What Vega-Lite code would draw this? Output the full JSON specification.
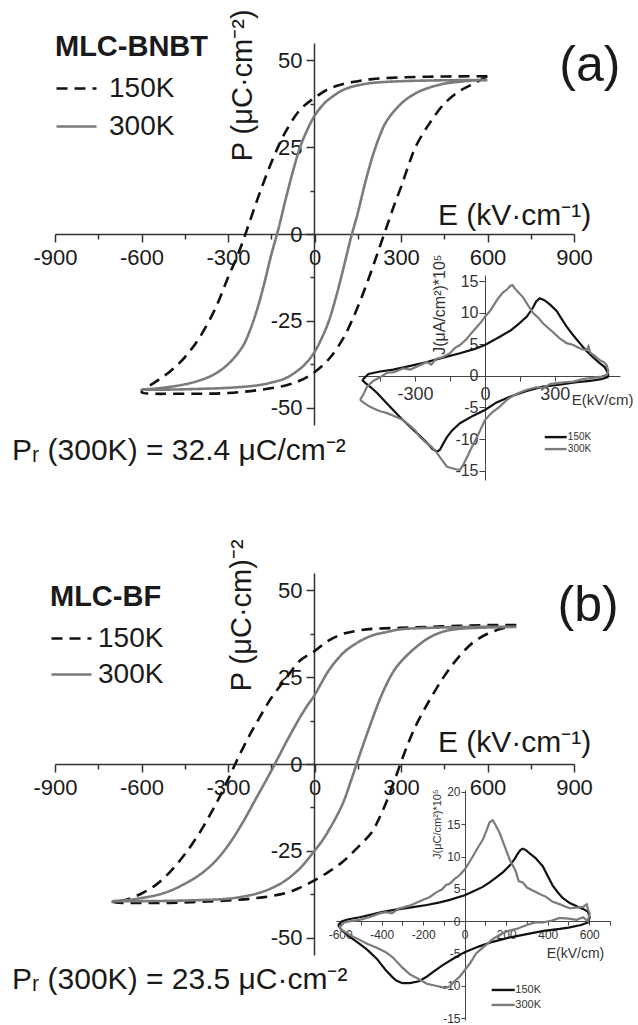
{
"$schema": "https://vega.github.io/schema/vega-lite/v6.json",
"width": 638, "height": 1025, "autosize": {"type": "none"}, "padding": 0, "background": "white",
"config": {"view": {"stroke": null}, "font": "Liberation Sans",
  "axis": {"grid": false, "domainColor": "#333333", "tickColor": "#333333", "labelColor": "#1a1a1a", "labelFont": "Liberation Sans", "labelOverlap": false, "labelFlush": false},
  "legend": {"labelFont": "Liberation Sans", "titleFont": "Liberation Sans", "labelColor": "#1a1a1a", "titleColor": "#1a1a1a"}},
"datasets": {
"mainA": [
{"T":"150K","i":0,"E":600,"P":45.4},{"T":"150K","i":1,"E":500,"P":45.4},{"T":"150K","i":2,"E":400,"P":45.3},{"T":"150K","i":3,"E":300,"P":45.1},{"T":"150K","i":4,"E":200,"P":44.6},{"T":"150K","i":5,"E":150,"P":44},{"T":"150K","i":6,"E":100,"P":43.2},{"T":"150K","i":7,"E":50,"P":41.8},{"T":"150K","i":8,"E":0,"P":39.2},{"T":"150K","i":9,"E":-50,"P":35.8},{"T":"150K","i":10,"E":-100,"P":29.5},{"T":"150K","i":11,"E":-125,"P":25.3},{"T":"150K","i":12,"E":-150,"P":20.5},{"T":"150K","i":13,"E":-175,"P":15.2},{"T":"150K","i":14,"E":-200,"P":9.5},{"T":"150K","i":15,"E":-225,"P":3.5},{"T":"150K","i":16,"E":-250,"P":-2.5},{"T":"150K","i":17,"E":-275,"P":-7.8},{"T":"150K","i":18,"E":-300,"P":-12.5},{"T":"150K","i":19,"E":-325,"P":-17.8},{"T":"150K","i":20,"E":-350,"P":-22.5},{"T":"150K","i":21,"E":-400,"P":-30},{"T":"150K","i":22,"E":-450,"P":-35.5},{"T":"150K","i":23,"E":-500,"P":-39.5},{"T":"150K","i":24,"E":-550,"P":-42.5},{"T":"150K","i":25,"E":-600,"P":-45.5},{"T":"150K","i":26,"E":-550,"P":-46},{"T":"150K","i":27,"E":-500,"P":-46},{"T":"150K","i":28,"E":-400,"P":-46},{"T":"150K","i":29,"E":-300,"P":-45.8},{"T":"150K","i":30,"E":-200,"P":-45},{"T":"150K","i":31,"E":-100,"P":-43.6},{"T":"150K","i":32,"E":-50,"P":-42.2},{"T":"150K","i":33,"E":0,"P":-39.8},{"T":"150K","i":34,"E":50,"P":-36},{"T":"150K","i":35,"E":100,"P":-30},{"T":"150K","i":36,"E":125,"P":-25.8},{"T":"150K","i":37,"E":150,"P":-21},{"T":"150K","i":38,"E":175,"P":-15.7},{"T":"150K","i":39,"E":200,"P":-10},{"T":"150K","i":40,"E":225,"P":-4},{"T":"150K","i":41,"E":250,"P":2},{"T":"150K","i":42,"E":275,"P":8},{"T":"150K","i":43,"E":300,"P":13.5},{"T":"150K","i":44,"E":325,"P":19.5},{"T":"150K","i":45,"E":350,"P":25},{"T":"150K","i":46,"E":400,"P":32},{"T":"150K","i":47,"E":450,"P":37.5},{"T":"150K","i":48,"E":500,"P":41},{"T":"150K","i":49,"E":550,"P":43.2},{"T":"150K","i":50,"E":600,"P":45.4},
{"T":"300K","i":0,"E":600,"P":44.3},{"T":"300K","i":1,"E":500,"P":44.3},{"T":"300K","i":2,"E":400,"P":44.2},{"T":"300K","i":3,"E":300,"P":44},{"T":"300K","i":4,"E":200,"P":43.5},{"T":"300K","i":5,"E":150,"P":42.8},{"T":"300K","i":6,"E":100,"P":41.5},{"T":"300K","i":7,"E":50,"P":38.8},{"T":"300K","i":8,"E":25,"P":36.8},{"T":"300K","i":9,"E":0,"P":34},{"T":"300K","i":10,"E":-25,"P":30},{"T":"300K","i":11,"E":-50,"P":25},{"T":"300K","i":12,"E":-75,"P":18},{"T":"300K","i":13,"E":-100,"P":10},{"T":"300K","i":14,"E":-125,"P":1.5},{"T":"300K","i":15,"E":-150,"P":-6},{"T":"300K","i":16,"E":-175,"P":-14.5},{"T":"300K","i":17,"E":-200,"P":-22},{"T":"300K","i":18,"E":-225,"P":-28},{"T":"300K","i":19,"E":-250,"P":-32.5},{"T":"300K","i":20,"E":-300,"P":-37.5},{"T":"300K","i":21,"E":-350,"P":-40.5},{"T":"300K","i":22,"E":-400,"P":-42.2},{"T":"300K","i":23,"E":-450,"P":-43.3},{"T":"300K","i":24,"E":-500,"P":-44},{"T":"300K","i":25,"E":-550,"P":-44.5},{"T":"300K","i":26,"E":-600,"P":-44.8},{"T":"300K","i":27,"E":-500,"P":-44.8},{"T":"300K","i":28,"E":-400,"P":-44.6},{"T":"300K","i":29,"E":-300,"P":-44.3},{"T":"300K","i":30,"E":-200,"P":-43.6},{"T":"300K","i":31,"E":-150,"P":-42.8},{"T":"300K","i":32,"E":-100,"P":-41.5},{"T":"300K","i":33,"E":-50,"P":-38.8},{"T":"300K","i":34,"E":-25,"P":-36.8},{"T":"300K","i":35,"E":0,"P":-34},{"T":"300K","i":36,"E":25,"P":-30},{"T":"300K","i":37,"E":50,"P":-25},{"T":"300K","i":38,"E":75,"P":-18},{"T":"300K","i":39,"E":100,"P":-10},{"T":"300K","i":40,"E":125,"P":-1.5},{"T":"300K","i":41,"E":150,"P":6},{"T":"300K","i":42,"E":175,"P":14.5},{"T":"300K","i":43,"E":200,"P":22},{"T":"300K","i":44,"E":225,"P":28},{"T":"300K","i":45,"E":250,"P":32.5},{"T":"300K","i":46,"E":300,"P":37.5},{"T":"300K","i":47,"E":350,"P":40.5},{"T":"300K","i":48,"E":400,"P":42.2},{"T":"300K","i":49,"E":450,"P":43.3},{"T":"300K","i":50,"E":500,"P":43.8},{"T":"300K","i":51,"E":550,"P":44.2},{"T":"300K","i":52,"E":600,"P":44.3}
],
"mainB": [
{"T":"150K","i":0,"E":700,"P":40},{"T":"150K","i":1,"E":600,"P":40},{"T":"150K","i":2,"E":500,"P":39.8},{"T":"150K","i":3,"E":400,"P":39.5},{"T":"150K","i":4,"E":300,"P":39.2},{"T":"150K","i":5,"E":200,"P":38.9},{"T":"150K","i":6,"E":150,"P":38.4},{"T":"150K","i":7,"E":100,"P":37.5},{"T":"150K","i":8,"E":50,"P":35.6},{"T":"150K","i":9,"E":0,"P":32.5},{"T":"150K","i":10,"E":-50,"P":29.8},{"T":"150K","i":11,"E":-100,"P":24.5},{"T":"150K","i":12,"E":-150,"P":19},{"T":"150K","i":13,"E":-200,"P":12},{"T":"150K","i":14,"E":-225,"P":8.3},{"T":"150K","i":15,"E":-250,"P":4.3},{"T":"150K","i":16,"E":-275,"P":0},{"T":"150K","i":17,"E":-300,"P":-4.5},{"T":"150K","i":18,"E":-325,"P":-8.8},{"T":"150K","i":19,"E":-350,"P":-12.8},{"T":"150K","i":20,"E":-400,"P":-20},{"T":"150K","i":21,"E":-450,"P":-26},{"T":"150K","i":22,"E":-500,"P":-31},{"T":"150K","i":23,"E":-550,"P":-34.8},{"T":"150K","i":24,"E":-600,"P":-37.3},{"T":"150K","i":25,"E":-650,"P":-39},{"T":"150K","i":26,"E":-700,"P":-39.8},{"T":"150K","i":27,"E":-650,"P":-40},{"T":"150K","i":28,"E":-600,"P":-40},{"T":"150K","i":29,"E":-500,"P":-40},{"T":"150K","i":30,"E":-400,"P":-39.7},{"T":"150K","i":31,"E":-300,"P":-39.3},{"T":"150K","i":32,"E":-200,"P":-38.6},{"T":"150K","i":33,"E":-100,"P":-37.2},{"T":"150K","i":34,"E":-50,"P":-35.6},{"T":"150K","i":35,"E":0,"P":-33.5},{"T":"150K","i":36,"E":50,"P":-31},{"T":"150K","i":37,"E":100,"P":-28},{"T":"150K","i":38,"E":150,"P":-24},{"T":"150K","i":39,"E":200,"P":-19.5},{"T":"150K","i":40,"E":225,"P":-15.5},{"T":"150K","i":41,"E":250,"P":-10.8},{"T":"150K","i":42,"E":275,"P":-5.3},{"T":"150K","i":43,"E":300,"P":0.5},{"T":"150K","i":44,"E":325,"P":6},{"T":"150K","i":45,"E":350,"P":10.8},{"T":"150K","i":46,"E":375,"P":14.8},{"T":"150K","i":47,"E":400,"P":18.5},{"T":"150K","i":48,"E":450,"P":25.3},{"T":"150K","i":49,"E":500,"P":30.8},{"T":"150K","i":50,"E":550,"P":35},{"T":"150K","i":51,"E":600,"P":37.5},{"T":"150K","i":52,"E":650,"P":39},{"T":"150K","i":53,"E":700,"P":40},
{"T":"300K","i":0,"E":700,"P":39.5},{"T":"300K","i":1,"E":600,"P":39.5},{"T":"300K","i":2,"E":500,"P":39.4},{"T":"300K","i":3,"E":400,"P":39.2},{"T":"300K","i":4,"E":300,"P":38.8},{"T":"300K","i":5,"E":250,"P":38},{"T":"300K","i":6,"E":200,"P":37},{"T":"300K","i":7,"E":150,"P":35},{"T":"300K","i":8,"E":100,"P":32},{"T":"300K","i":9,"E":50,"P":27},{"T":"300K","i":10,"E":25,"P":23.5},{"T":"300K","i":11,"E":0,"P":19.8},{"T":"300K","i":12,"E":-25,"P":16.8},{"T":"300K","i":13,"E":-50,"P":13.5},{"T":"300K","i":14,"E":-75,"P":9.8},{"T":"300K","i":15,"E":-100,"P":6},{"T":"300K","i":16,"E":-125,"P":2},{"T":"300K","i":17,"E":-150,"P":-2},{"T":"300K","i":18,"E":-175,"P":-5.8},{"T":"300K","i":19,"E":-200,"P":-9.5},{"T":"300K","i":20,"E":-250,"P":-17},{"T":"300K","i":21,"E":-300,"P":-23.5},{"T":"300K","i":22,"E":-350,"P":-28.5},{"T":"300K","i":23,"E":-400,"P":-32},{"T":"300K","i":24,"E":-450,"P":-34.5},{"T":"300K","i":25,"E":-500,"P":-36.5},{"T":"300K","i":26,"E":-550,"P":-37.8},{"T":"300K","i":27,"E":-600,"P":-38.6},{"T":"300K","i":28,"E":-650,"P":-39.2},{"T":"300K","i":29,"E":-700,"P":-39.5},{"T":"300K","i":30,"E":-650,"P":-39.5},{"T":"300K","i":31,"E":-600,"P":-39.5},{"T":"300K","i":32,"E":-500,"P":-39.4},{"T":"300K","i":33,"E":-400,"P":-39.2},{"T":"300K","i":34,"E":-300,"P":-38.8},{"T":"300K","i":35,"E":-250,"P":-38.2},{"T":"300K","i":36,"E":-200,"P":-37.3},{"T":"300K","i":37,"E":-150,"P":-35.8},{"T":"300K","i":38,"E":-100,"P":-33.5},{"T":"300K","i":39,"E":-50,"P":-30},{"T":"300K","i":40,"E":0,"P":-25},{"T":"300K","i":41,"E":25,"P":-22.3},{"T":"300K","i":42,"E":50,"P":-19},{"T":"300K","i":43,"E":75,"P":-15.3},{"T":"300K","i":44,"E":100,"P":-11},{"T":"300K","i":45,"E":125,"P":-5.2},{"T":"300K","i":46,"E":150,"P":1},{"T":"300K","i":47,"E":175,"P":7},{"T":"300K","i":48,"E":200,"P":12.8},{"T":"300K","i":49,"E":225,"P":18.3},{"T":"300K","i":50,"E":250,"P":23},{"T":"300K","i":51,"E":275,"P":26.8},{"T":"300K","i":52,"E":300,"P":29.5},{"T":"300K","i":53,"E":350,"P":33.5},{"T":"300K","i":54,"E":400,"P":36.5},{"T":"300K","i":55,"E":450,"P":38.2},{"T":"300K","i":56,"E":500,"P":38.9},{"T":"300K","i":57,"E":600,"P":39.3},{"T":"300K","i":58,"E":700,"P":39.5}
],
"insetA": [
{"T":"150K","i":0,"E":-525,"J":-0.6},{"T":"150K","i":1,"E":-500,"J":0.3},{"T":"150K","i":2,"E":-450,"J":0.7},{"T":"150K","i":3,"E":-394,"J":1},{"T":"150K","i":4,"E":-320,"J":1.6},{"T":"150K","i":5,"E":-249,"J":2.2},{"T":"150K","i":6,"E":-180,"J":2.9},{"T":"150K","i":7,"E":-107,"J":3.6},{"T":"150K","i":8,"E":-50,"J":4.2},{"T":"150K","i":9,"E":0,"J":4.9},{"T":"150K","i":10,"E":64,"J":6.2},{"T":"150K","i":11,"E":110,"J":7.2},{"T":"150K","i":12,"E":150,"J":8.4},{"T":"150K","i":13,"E":180,"J":9.4},{"T":"150K","i":14,"E":206,"J":10.8},{"T":"150K","i":15,"E":220,"J":11.8},{"T":"150K","i":16,"E":235,"J":12.3},{"T":"150K","i":17,"E":255,"J":12},{"T":"150K","i":18,"E":280,"J":11.3},{"T":"150K","i":19,"E":308,"J":10.3},{"T":"150K","i":20,"E":330,"J":9},{"T":"150K","i":21,"E":351,"J":7.8},{"T":"150K","i":22,"E":380,"J":6.4},{"T":"150K","i":23,"E":407,"J":5.2},{"T":"150K","i":24,"E":435,"J":4},{"T":"150K","i":25,"E":463,"J":3},{"T":"150K","i":26,"E":490,"J":2.1},{"T":"150K","i":27,"E":514,"J":1.4},{"T":"150K","i":28,"E":525,"J":0.7},{"T":"150K","i":29,"E":530,"J":0.2},{"T":"150K","i":30,"E":527,"J":-0.2},{"T":"150K","i":31,"E":500,"J":-0.5},{"T":"150K","i":32,"E":450,"J":-0.8},{"T":"150K","i":33,"E":394,"J":-1},{"T":"150K","i":34,"E":320,"J":-1.4},{"T":"150K","i":35,"E":249,"J":-1.7},{"T":"150K","i":36,"E":180,"J":-2.4},{"T":"150K","i":37,"E":107,"J":-3.3},{"T":"150K","i":38,"E":50,"J":-4.2},{"T":"150K","i":39,"E":0,"J":-5.4},{"T":"150K","i":40,"E":-50,"J":-6.3},{"T":"150K","i":41,"E":-107,"J":-7.5},{"T":"150K","i":42,"E":-140,"J":-8.6},{"T":"150K","i":43,"E":-163,"J":-9.7},{"T":"150K","i":44,"E":-180,"J":-10.8},{"T":"150K","i":45,"E":-193,"J":-11.7},{"T":"150K","i":46,"E":-205,"J":-12},{"T":"150K","i":47,"E":-225,"J":-11.6},{"T":"150K","i":48,"E":-249,"J":-10.6},{"T":"150K","i":49,"E":-285,"J":-9.3},{"T":"150K","i":50,"E":-321,"J":-8.1},{"T":"150K","i":51,"E":-360,"J":-6.7},{"T":"150K","i":52,"E":-394,"J":-5.4},{"T":"150K","i":53,"E":-430,"J":-4},{"T":"150K","i":54,"E":-463,"J":-2.7},{"T":"150K","i":55,"E":-490,"J":-1.8},{"T":"150K","i":56,"E":-514,"J":-1.1},{"T":"150K","i":57,"E":-528,"J":-0.6},
{"T":"300K","i":0,"E":-536,"J":-3.8},{"T":"300K","i":1,"E":-520,"J":-2.8},{"T":"300K","i":2,"E":-506,"J":-1.7},{"T":"300K","i":3,"E":-480,"J":-0.8},{"T":"300K","i":4,"E":-450,"J":-0.2},{"T":"300K","i":5,"E":-420,"J":0.5},{"T":"300K","i":6,"E":-390,"J":0.6},{"T":"300K","i":7,"E":-350,"J":1.2},{"T":"300K","i":8,"E":-320,"J":1},{"T":"300K","i":9,"E":-279,"J":1.7},{"T":"300K","i":10,"E":-250,"J":2.2},{"T":"300K","i":11,"E":-230,"J":1.8},{"T":"300K","i":12,"E":-210,"J":2.7},{"T":"300K","i":13,"E":-180,"J":3},{"T":"300K","i":14,"E":-150,"J":3.6},{"T":"300K","i":15,"E":-130,"J":4.4},{"T":"300K","i":16,"E":-107,"J":4.9},{"T":"300K","i":17,"E":-80,"J":5.8},{"T":"300K","i":18,"E":-60,"J":6.7},{"T":"300K","i":19,"E":-34,"J":7.8},{"T":"300K","i":20,"E":-15,"J":8.6},{"T":"300K","i":21,"E":0,"J":9.4},{"T":"300K","i":22,"E":20,"J":10.2},{"T":"300K","i":23,"E":34,"J":11},{"T":"300K","i":24,"E":55,"J":12.2},{"T":"300K","i":25,"E":77,"J":13.2},{"T":"300K","i":26,"E":95,"J":13.7},{"T":"300K","i":27,"E":110,"J":14.3},{"T":"300K","i":28,"E":118,"J":14.4},{"T":"300K","i":29,"E":130,"J":13.8},{"T":"300K","i":30,"E":145,"J":13.2},{"T":"300K","i":31,"E":163,"J":12.5},{"T":"300K","i":32,"E":185,"J":11.2},{"T":"300K","i":33,"E":206,"J":10},{"T":"300K","i":34,"E":230,"J":9.2},{"T":"300K","i":35,"E":250,"J":8.3},{"T":"300K","i":36,"E":266,"J":7.8},{"T":"300K","i":37,"E":290,"J":7},{"T":"300K","i":38,"E":320,"J":6},{"T":"300K","i":39,"E":351,"J":5.2},{"T":"300K","i":40,"E":380,"J":4.9},{"T":"300K","i":41,"E":400,"J":4.5},{"T":"300K","i":42,"E":420,"J":4.2},{"T":"300K","i":43,"E":437,"J":4.1},{"T":"300K","i":44,"E":445,"J":4.7},{"T":"300K","i":45,"E":452,"J":3.7},{"T":"300K","i":46,"E":470,"J":3.2},{"T":"300K","i":47,"E":493,"J":2.5},{"T":"300K","i":48,"E":510,"J":2.2},{"T":"300K","i":49,"E":523,"J":1.7},{"T":"300K","i":50,"E":530,"J":0.8},{"T":"300K","i":51,"E":525,"J":0.2},{"T":"300K","i":52,"E":500,"J":-0.1},{"T":"300K","i":53,"E":463,"J":-0.3},{"T":"300K","i":54,"E":420,"J":-0.5},{"T":"300K","i":55,"E":380,"J":-0.9},{"T":"300K","i":56,"E":340,"J":-1},{"T":"300K","i":57,"E":321,"J":-1.1},{"T":"300K","i":58,"E":280,"J":-1.3},{"T":"300K","i":59,"E":250,"J":-1.9},{"T":"300K","i":60,"E":220,"J":-1.8},{"T":"300K","i":61,"E":180,"J":-2.2},{"T":"300K","i":62,"E":140,"J":-2.8},{"T":"300K","i":63,"E":110,"J":-3.4},{"T":"300K","i":64,"E":94,"J":-3.8},{"T":"300K","i":65,"E":60,"J":-5},{"T":"300K","i":66,"E":30,"J":-5.8},{"T":"300K","i":67,"E":0,"J":-7},{"T":"300K","i":68,"E":-15,"J":-8.2},{"T":"300K","i":69,"E":-34,"J":-9.7},{"T":"300K","i":70,"E":-55,"J":-11.2},{"T":"300K","i":71,"E":-77,"J":-12.9},{"T":"300K","i":72,"E":-92,"J":-14},{"T":"300K","i":73,"E":-107,"J":-14.9},{"T":"300K","i":74,"E":-125,"J":-14.8},{"T":"300K","i":75,"E":-145,"J":-14.6},{"T":"300K","i":76,"E":-163,"J":-14.4},{"T":"300K","i":77,"E":-185,"J":-13.3},{"T":"300K","i":78,"E":-206,"J":-12.2},{"T":"300K","i":79,"E":-230,"J":-11.2},{"T":"300K","i":80,"E":-255,"J":-10.5},{"T":"300K","i":81,"E":-279,"J":-9.7},{"T":"300K","i":82,"E":-300,"J":-8.6},{"T":"300K","i":83,"E":-325,"J":-7.8},{"T":"300K","i":84,"E":-351,"J":-7},{"T":"300K","i":85,"E":-380,"J":-6.5},{"T":"300K","i":86,"E":-420,"J":-5.9},{"T":"300K","i":87,"E":-450,"J":-5.6},{"T":"300K","i":88,"E":-475,"J":-5.2},{"T":"300K","i":89,"E":-493,"J":-4.9},{"T":"300K","i":90,"E":-515,"J":-4.4},{"T":"300K","i":91,"E":-536,"J":-3.8}
],
"insetB": [
{"T":"150K","i":0,"E":-610,"J":-0.6},{"T":"150K","i":1,"E":-590,"J":0},{"T":"150K","i":2,"E":-560,"J":0.3},{"T":"150K","i":3,"E":-506,"J":0.6},{"T":"150K","i":4,"E":-450,"J":1},{"T":"150K","i":5,"E":-400,"J":1.4},{"T":"150K","i":6,"E":-347,"J":1.7},{"T":"150K","i":7,"E":-265,"J":2.1},{"T":"150K","i":8,"E":-183,"J":2.5},{"T":"150K","i":9,"E":-120,"J":2.9},{"T":"150K","i":10,"E":-72,"J":3.3},{"T":"150K","i":11,"E":0,"J":4},{"T":"150K","i":12,"E":40,"J":4.6},{"T":"150K","i":13,"E":87,"J":5.3},{"T":"150K","i":14,"E":120,"J":6},{"T":"150K","i":15,"E":154,"J":6.8},{"T":"150K","i":16,"E":185,"J":7.6},{"T":"150K","i":17,"E":217,"J":8.6},{"T":"150K","i":18,"E":240,"J":9.6},{"T":"150K","i":19,"E":255,"J":10.4},{"T":"150K","i":20,"E":268,"J":11},{"T":"150K","i":21,"E":280,"J":11.2},{"T":"150K","i":22,"E":295,"J":11},{"T":"150K","i":23,"E":313,"J":10.5},{"T":"150K","i":24,"E":340,"J":9.8},{"T":"150K","i":25,"E":376,"J":8.5},{"T":"150K","i":26,"E":400,"J":7},{"T":"150K","i":27,"E":424,"J":5.5},{"T":"150K","i":28,"E":450,"J":4.4},{"T":"150K","i":29,"E":472,"J":3.6},{"T":"150K","i":30,"E":506,"J":2.8},{"T":"150K","i":31,"E":540,"J":2.3},{"T":"150K","i":32,"E":570,"J":1.9},{"T":"150K","i":33,"E":593,"J":1.5},{"T":"150K","i":34,"E":602,"J":0.6},{"T":"150K","i":35,"E":595,"J":-0.2},{"T":"150K","i":36,"E":560,"J":-0.6},{"T":"150K","i":37,"E":500,"J":-1},{"T":"150K","i":38,"E":458,"J":-1.2},{"T":"150K","i":39,"E":380,"J":-1.5},{"T":"150K","i":40,"E":299,"J":-2},{"T":"150K","i":41,"E":220,"J":-2.5},{"T":"150K","i":42,"E":135,"J":-3.2},{"T":"150K","i":43,"E":70,"J":-3.9},{"T":"150K","i":44,"E":0,"J":-4.8},{"T":"150K","i":45,"E":-50,"J":-5.7},{"T":"150K","i":46,"E":-106,"J":-6.8},{"T":"150K","i":47,"E":-150,"J":-7.8},{"T":"150K","i":48,"E":-183,"J":-8.6},{"T":"150K","i":49,"E":-220,"J":-9.3},{"T":"150K","i":50,"E":-265,"J":-9.6},{"T":"150K","i":51,"E":-300,"J":-9.6},{"T":"150K","i":52,"E":-330,"J":-9.2},{"T":"150K","i":53,"E":-347,"J":-8.7},{"T":"150K","i":54,"E":-380,"J":-7.6},{"T":"150K","i":55,"E":-424,"J":-5.8},{"T":"150K","i":56,"E":-470,"J":-4.4},{"T":"150K","i":57,"E":-506,"J":-3.5},{"T":"150K","i":58,"E":-550,"J":-2.5},{"T":"150K","i":59,"E":-590,"J":-1.5},{"T":"150K","i":60,"E":-610,"J":-0.6},
{"T":"300K","i":0,"E":-605,"J":-1},{"T":"300K","i":1,"E":-580,"J":-0.2},{"T":"300K","i":2,"E":-550,"J":0},{"T":"300K","i":3,"E":-506,"J":0.2},{"T":"300K","i":4,"E":-460,"J":0.6},{"T":"300K","i":5,"E":-410,"J":1.2},{"T":"300K","i":6,"E":-380,"J":1.4},{"T":"300K","i":7,"E":-350,"J":1.2},{"T":"300K","i":8,"E":-320,"J":1.9},{"T":"300K","i":9,"E":-265,"J":2.4},{"T":"300K","i":10,"E":-230,"J":2.9},{"T":"300K","i":11,"E":-200,"J":3.3},{"T":"300K","i":12,"E":-170,"J":3.7},{"T":"300K","i":13,"E":-135,"J":4.5},{"T":"300K","i":14,"E":-110,"J":4.9},{"T":"300K","i":15,"E":-90,"J":5.6},{"T":"300K","i":16,"E":-72,"J":5.8},{"T":"300K","i":17,"E":-50,"J":6.5},{"T":"300K","i":18,"E":-25,"J":7.1},{"T":"300K","i":19,"E":0,"J":8},{"T":"300K","i":20,"E":20,"J":9},{"T":"300K","i":21,"E":39,"J":10},{"T":"300K","i":22,"E":60,"J":11.2},{"T":"300K","i":23,"E":87,"J":12.6},{"T":"300K","i":24,"E":105,"J":14},{"T":"300K","i":25,"E":120,"J":15.3},{"T":"300K","i":26,"E":135,"J":15.6},{"T":"300K","i":27,"E":150,"J":14.8},{"T":"300K","i":28,"E":169,"J":13.6},{"T":"300K","i":29,"E":190,"J":11.8},{"T":"300K","i":30,"E":217,"J":9.5},{"T":"300K","i":31,"E":245,"J":7.8},{"T":"300K","i":32,"E":260,"J":6.2},{"T":"300K","i":33,"E":280,"J":6},{"T":"300K","i":34,"E":300,"J":5.2},{"T":"300K","i":35,"E":330,"J":4.7},{"T":"300K","i":36,"E":361,"J":4.2},{"T":"300K","i":37,"E":390,"J":3.8},{"T":"300K","i":38,"E":424,"J":3},{"T":"300K","i":39,"E":460,"J":2.6},{"T":"300K","i":40,"E":480,"J":2.3},{"T":"300K","i":41,"E":506,"J":2},{"T":"300K","i":42,"E":540,"J":2.1},{"T":"300K","i":43,"E":570,"J":2.2},{"T":"300K","i":44,"E":588,"J":2.6},{"T":"300K","i":45,"E":595,"J":1.7},{"T":"300K","i":46,"E":602,"J":1.2},{"T":"300K","i":47,"E":593,"J":0},{"T":"300K","i":48,"E":570,"J":0.6},{"T":"300K","i":49,"E":540,"J":0.2},{"T":"300K","i":50,"E":500,"J":0.4},{"T":"300K","i":51,"E":458,"J":0.5},{"T":"300K","i":52,"E":420,"J":0.1},{"T":"300K","i":53,"E":380,"J":-0.2},{"T":"300K","i":54,"E":340,"J":-0.2},{"T":"300K","i":55,"E":299,"J":-0.6},{"T":"300K","i":56,"E":250,"J":-1.2},{"T":"300K","i":57,"E":210,"J":-1.5},{"T":"300K","i":58,"E":169,"J":-2.1},{"T":"300K","i":59,"E":130,"J":-2.9},{"T":"300K","i":60,"E":110,"J":-3.5},{"T":"300K","i":61,"E":87,"J":-4.1},{"T":"300K","i":62,"E":55,"J":-5},{"T":"300K","i":63,"E":24,"J":-6.6},{"T":"300K","i":64,"E":0,"J":-7.6},{"T":"300K","i":65,"E":-24,"J":-8.6},{"T":"300K","i":66,"E":-50,"J":-9.3},{"T":"300K","i":67,"E":-72,"J":-10.1},{"T":"300K","i":68,"E":-95,"J":-10.4},{"T":"300K","i":69,"E":-110,"J":-10.2},{"T":"300K","i":70,"E":-140,"J":-10},{"T":"300K","i":71,"E":-183,"J":-9.7},{"T":"300K","i":72,"E":-220,"J":-9},{"T":"300K","i":73,"E":-265,"J":-8.2},{"T":"300K","i":74,"E":-300,"J":-7.2},{"T":"300K","i":75,"E":-347,"J":-5.6},{"T":"300K","i":76,"E":-380,"J":-4.8},{"T":"300K","i":77,"E":-424,"J":-4.1},{"T":"300K","i":78,"E":-470,"J":-3.5},{"T":"300K","i":79,"E":-506,"J":-2.9},{"T":"300K","i":80,"E":-550,"J":-2.2},{"T":"300K","i":81,"E":-590,"J":-1.4},{"T":"300K","i":82,"E":-605,"J":-1}
]
},
"layer": [
{"layer": [
  {"data": {"name": "mainA"}, "mark": {"type": "line", "strokeWidth": 2.6, "interpolate": "catmull-rom"},
   "encoding": {
    "x": {"field": "E", "type": "quantitative", "scale": {"domain": [-900, 900], "range": [55, 574], "nice": false, "zero": false},
      "axis": {"orient": "bottom", "offset": -791, "title": null, "values": [-900,-750,-600,-450,-300,-150,0,150,300,450,600,750,900], "labelExpr": "datum.value % 300 === 0 ? (datum.value < 0 ? '-' : '') + abs(datum.value) : ''", "tickSize": {"condition": {"test": "datum.value % 300 === 0", "value": 8}, "value": 5}, "labelFontSize": 22, "labelPadding": 5, "domainWidth": 1.5, "tickWidth": 1.5}},
    "y": {"field": "P", "type": "quantitative", "scale": {"domain": [-55, 55], "range": [425, 43], "nice": false, "zero": false},
      "axis": {"orient": "left", "offset": -314, "title": null, "values": [-50,-37.5,-25,-12.5,0,12.5,25,37.5,50], "labelExpr": "datum.value % 25 === 0 ? (datum.value < 0 ? '-' : '') + abs(datum.value) : ''", "tickSize": {"condition": {"test": "datum.value % 25 === 0", "value": 8}, "value": 4}, "labelFontSize": 22, "labelPadding": 4, "domainWidth": 1.5, "tickWidth": 1.5}},
    "color": {"field": "T", "type": "nominal", "scale": {"domain": ["150K", "300K"], "range": ["#111111", "#7b7b7b"]},
      "legend": {"orient": "none", "legendX": 55, "legendY": 33, "title": "MLC-BNBT", "titleFontSize": 29, "titleFontWeight": "bold", "titlePadding": 5, "labelFontSize": 28, "symbolType": "stroke", "symbolSize": 1600, "symbolStrokeWidth": 2.6, "rowPadding": 2, "labelOffset": 11, "padding": 0, "offset": 0}},
    "strokeDash": {"field": "T", "type": "nominal", "scale": {"domain": ["150K", "300K"], "range": [[11, 7], [1, 0]]},
      "legend": {"orient": "none", "legendX": 55, "legendY": 33, "title": "MLC-BNBT", "titleFontSize": 29, "titleFontWeight": "bold", "titlePadding": 5, "labelFontSize": 28, "symbolType": "stroke", "symbolSize": 1600, "symbolStrokeWidth": 2.6, "rowPadding": 2, "labelOffset": 11, "padding": 0, "offset": 0}},
    "order": {"field": "i", "type": "quantitative"}
   }},
  {"data": {"values": [{"s": "P (μC·cm⁻²)"}]}, "mark": {"type": "text", "fontSize": 29, "angle": 270, "align": "center", "baseline": "middle", "color": "#1a1a1a"},
   "encoding": {"x": {"datum": -248, "type": "quantitative"}, "y": {"datum": 42.8, "type": "quantitative"}, "text": {"field": "s"}}},
  {"data": {"values": [{"s": "E (kV·cm⁻¹)"}]}, "mark": {"type": "text", "fontSize": 30, "align": "left", "baseline": "alphabetic", "color": "#1a1a1a"},
   "encoding": {"x": {"datum": 428, "type": "quantitative"}, "y": {"datum": 2.6, "type": "quantitative"}, "text": {"field": "s"}}},
  {"data": {"values": [{"s": "(a)"}]}, "mark": {"type": "text", "fontSize": 50, "align": "center", "baseline": "middle", "color": "#1a1a1a"},
   "encoding": {"x": {"datum": 955, "type": "quantitative"}, "y": {"datum": 48.5, "type": "quantitative"}, "text": {"field": "s"}}},
  {"data": {"values": [{"s": "Pᵣ (300K) = 32.4 μC/cm⁻²"}]}, "mark": {"type": "text", "fontSize": 30, "align": "left", "baseline": "alphabetic", "color": "#1a1a1a"},
   "encoding": {"x": {"datum": -1049, "type": "quantitative"}, "y": {"datum": -65, "type": "quantitative"}, "text": {"field": "s"}}}
]},
{"layer": [
  {"data": {"name": "insetA"}, "mark": {"type": "line", "strokeWidth": 2.2},
   "encoding": {
    "x": {"field": "E", "type": "quantitative", "scale": {"domain": [-545, 580], "range": [358, 620], "nice": false, "zero": false},
      "axis": {"orient": "bottom", "offset": -649, "title": null, "values": [-450,-300,-150,0,150,300,450], "labelExpr": "datum.value % 300 === 0 ? (datum.value < 0 ? '-' : '') + abs(datum.value) : ''", "tickSize": 5, "labelFontSize": 18, "labelPadding": 4, "domainColor": "#444444", "tickColor": "#444444", "labelColor": "#333333"}},
    "y": {"field": "J", "type": "quantitative", "scale": {"domain": [-16.5, 16], "range": [480, 275], "nice": false, "zero": false},
      "axis": {"orient": "left", "offset": -485, "title": null, "values": [-15,-10,-5,0,5,10,15], "labelExpr": "(datum.value < 0 ? '-' : '') + abs(datum.value)", "tickSize": 6, "labelFontSize": 16, "labelPadding": 1, "domainColor": "#444444", "tickColor": "#444444", "labelColor": "#333333"}},
    "color": {"field": "T", "type": "nominal", "scale": {"domain": ["150K", "300K"], "range": ["#111111", "#7b7b7b"]}, "legend": null},
    "order": {"field": "i", "type": "quantitative"}
   }},
  {"data": {"values": [{"T": "150K"}]}, "mark": {"type": "rule", "strokeWidth": 2.4},
   "encoding": {"x": {"datum": 257, "type": "quantitative"}, "x2": {"datum": 351}, "y": {"datum": -9.7, "type": "quantitative"}, "color": {"field": "T", "type": "nominal", "legend": null}}},
  {"data": {"values": [{"T": "300K"}]}, "mark": {"type": "rule", "strokeWidth": 2.4},
   "encoding": {"x": {"datum": 257, "type": "quantitative"}, "x2": {"datum": 351}, "y": {"datum": -11.6, "type": "quantitative"}, "color": {"field": "T", "type": "nominal", "legend": null}}},
  {"data": {"values": [{"T": "150K"}]}, "mark": {"type": "text", "fontSize": 10, "align": "left", "baseline": "middle", "color": "#333333"},
   "encoding": {"x": {"datum": 356, "type": "quantitative"}, "y": {"datum": -9.7, "type": "quantitative"}, "text": {"field": "T"}}},
  {"data": {"values": [{"T": "300K"}]}, "mark": {"type": "text", "fontSize": 10, "align": "left", "baseline": "middle", "color": "#333333"},
   "encoding": {"x": {"datum": 356, "type": "quantitative"}, "y": {"datum": -11.6, "type": "quantitative"}, "text": {"field": "T"}}},
  {"data": {"values": [{"s": "E(kV/cm)"}]}, "mark": {"type": "text", "fontSize": 15, "align": "left", "baseline": "alphabetic", "color": "#333333"},
   "encoding": {"x": {"datum": 373, "type": "quantitative"}, "y": {"datum": -4.6, "type": "quantitative"}, "text": {"field": "s"}}},
  {"data": {"values": [{"s": "J(μA/cm²)*10⁵"}]}, "mark": {"type": "text", "fontSize": 16, "angle": 270, "align": "center", "baseline": "middle", "color": "#333333"},
   "encoding": {"x": {"datum": -193, "type": "quantitative"}, "y": {"datum": 11.3, "type": "quantitative"}, "text": {"field": "s"}}}
]},
{"layer": [
  {"data": {"name": "mainB"}, "mark": {"type": "line", "strokeWidth": 2.6, "interpolate": "catmull-rom"},
   "encoding": {
    "x": {"field": "E", "type": "quantitative", "scale": {"domain": [-900, 900], "range": [55, 574], "nice": false, "zero": false},
      "axis": {"orient": "bottom", "offset": -261, "title": null, "values": [-900,-750,-600,-450,-300,-150,0,150,300,450,600,750,900], "labelExpr": "datum.value % 300 === 0 ? (datum.value < 0 ? '-' : '') + abs(datum.value) : ''", "tickSize": {"condition": {"test": "datum.value % 300 === 0", "value": 8}, "value": 5}, "labelFontSize": 22, "labelPadding": 5, "domainWidth": 1.5, "tickWidth": 1.5}},
    "y": {"field": "P", "type": "quantitative", "scale": {"domain": [-55, 55], "range": [955, 573], "nice": false, "zero": false},
      "axis": {"orient": "left", "offset": -314, "title": null, "values": [-50,-37.5,-25,-12.5,0,12.5,25,37.5,50], "labelExpr": "datum.value % 25 === 0 ? (datum.value < 0 ? '-' : '') + abs(datum.value) : ''", "tickSize": {"condition": {"test": "datum.value % 25 === 0", "value": 8}, "value": 4}, "labelFontSize": 22, "labelPadding": 4, "domainWidth": 1.5, "tickWidth": 1.5}},
    "color": {"field": "T", "type": "nominal", "scale": {"domain": ["150K", "300K"], "range": ["#111111", "#7b7b7b"]},
      "legend": {"orient": "none", "legendX": 50, "legendY": 583, "title": "MLC-BF", "titleFontSize": 29, "titleFontWeight": "bold", "titlePadding": 5, "labelFontSize": 28, "symbolType": "stroke", "symbolSize": 1600, "symbolStrokeWidth": 2.6, "rowPadding": 0, "labelOffset": 5, "padding": 0, "offset": 0}},
    "strokeDash": {"field": "T", "type": "nominal", "scale": {"domain": ["150K", "300K"], "range": [[11, 7], [1, 0]]},
      "legend": {"orient": "none", "legendX": 50, "legendY": 583, "title": "MLC-BF", "titleFontSize": 29, "titleFontWeight": "bold", "titlePadding": 5, "labelFontSize": 28, "symbolType": "stroke", "symbolSize": 1600, "symbolStrokeWidth": 2.6, "rowPadding": 0, "labelOffset": 5, "padding": 0, "offset": 0}},
    "order": {"field": "i", "type": "quantitative"}
   }},
  {"data": {"values": [{"s": "P (μC·cm)⁻²"}]}, "mark": {"type": "text", "fontSize": 29, "angle": 270, "align": "center", "baseline": "middle", "color": "#1a1a1a"},
   "encoding": {"x": {"datum": -251, "type": "quantitative"}, "y": {"datum": 42.8, "type": "quantitative"}, "text": {"field": "s"}}},
  {"data": {"values": [{"s": "E (kV·cm⁻¹)"}]}, "mark": {"type": "text", "fontSize": 30, "align": "left", "baseline": "alphabetic", "color": "#1a1a1a"},
   "encoding": {"x": {"datum": 428, "type": "quantitative"}, "y": {"datum": 3.4, "type": "quantitative"}, "text": {"field": "s"}}},
  {"data": {"values": [{"s": "(b)"}]}, "mark": {"type": "text", "fontSize": 50, "align": "center", "baseline": "middle", "color": "#1a1a1a"},
   "encoding": {"x": {"datum": 949, "type": "quantitative"}, "y": {"datum": 45.4, "type": "quantitative"}, "text": {"field": "s"}}},
  {"data": {"values": [{"s": "Pᵣ (300K) = 23.5 μC·cm⁻²"}]}, "mark": {"type": "text", "fontSize": 30, "align": "left", "baseline": "alphabetic", "color": "#1a1a1a"},
   "encoding": {"x": {"datum": -1049, "type": "quantitative"}, "y": {"datum": -64.9, "type": "quantitative"}, "text": {"field": "s"}}}
]},
{"layer": [
  {"data": {"name": "insetB"}, "mark": {"type": "line", "strokeWidth": 2.2},
   "encoding": {
    "x": {"field": "E", "type": "quantitative", "scale": {"domain": [-620, 700], "range": [336, 610], "nice": false, "zero": false},
      "axis": {"orient": "bottom", "offset": -104, "title": null, "values": [-600,-500,-400,-300,-200,-100,0,100,200,300,400,500,600,700], "labelExpr": "datum.value % 200 === 0 ? (datum.value < 0 ? '-' : '') + abs(datum.value) : ''", "tickSize": 4, "labelFontSize": 12, "labelPadding": 4, "domainColor": "#444444", "tickColor": "#444444", "labelColor": "#333333"}},
    "y": {"field": "J", "type": "quantitative", "scale": {"domain": [-15.3, 20.3], "range": [1020, 790], "nice": false, "zero": false},
      "axis": {"orient": "left", "offset": -465, "title": null, "values": [-15,-10,-5,0,5,10,15,20], "labelExpr": "(datum.value < 0 ? '-' : '') + abs(datum.value)", "tickSize": 4, "labelFontSize": 12, "labelPadding": 1, "domainColor": "#444444", "tickColor": "#444444", "labelColor": "#333333"}},
    "color": {"field": "T", "type": "nominal", "scale": {"domain": ["150K", "300K"], "range": ["#111111", "#7b7b7b"]}, "legend": null},
    "order": {"field": "i", "type": "quantitative"}
   }},
  {"data": {"values": [{"T": "150K"}]}, "mark": {"type": "rule", "strokeWidth": 2.4},
   "encoding": {"x": {"datum": 130, "type": "quantitative"}, "x2": {"datum": 241}, "y": {"datum": -10.65, "type": "quantitative"}, "color": {"field": "T", "type": "nominal", "legend": null}}},
  {"data": {"values": [{"T": "300K"}]}, "mark": {"type": "rule", "strokeWidth": 2.4},
   "encoding": {"x": {"datum": 130, "type": "quantitative"}, "x2": {"datum": 241}, "y": {"datum": -12.97, "type": "quantitative"}, "color": {"field": "T", "type": "nominal", "legend": null}}},
  {"data": {"values": [{"T": "150K"}]}, "mark": {"type": "text", "fontSize": 11, "align": "left", "baseline": "middle", "color": "#333333"},
   "encoding": {"x": {"datum": 244, "type": "quantitative"}, "y": {"datum": -10.65, "type": "quantitative"}, "text": {"field": "T"}}},
  {"data": {"values": [{"T": "300K"}]}, "mark": {"type": "text", "fontSize": 11, "align": "left", "baseline": "middle", "color": "#333333"},
   "encoding": {"x": {"datum": 244, "type": "quantitative"}, "y": {"datum": -12.97, "type": "quantitative"}, "text": {"field": "T"}}},
  {"data": {"values": [{"s": "E(kV/cm)"}]}, "mark": {"type": "text", "fontSize": 14, "align": "left", "baseline": "alphabetic", "color": "#333333"},
   "encoding": {"x": {"datum": 395, "type": "quantitative"}, "y": {"datum": -5.7, "type": "quantitative"}, "text": {"field": "s"}}},
  {"data": {"values": [{"s": "J(μC/cm²)*10⁵"}]}, "mark": {"type": "text", "fontSize": 11, "angle": 270, "align": "center", "baseline": "middle", "color": "#333333"},
   "encoding": {"x": {"datum": -130, "type": "quantitative"}, "y": {"datum": 15, "type": "quantitative"}, "text": {"field": "s"}}}
]}
],
"resolve": {"scale": {"x": "independent", "y": "independent", "color": "independent", "strokeDash": "independent"}, "axis": {"x": "independent", "y": "independent"}, "legend": {"color": "independent", "strokeDash": "independent"}}
}
